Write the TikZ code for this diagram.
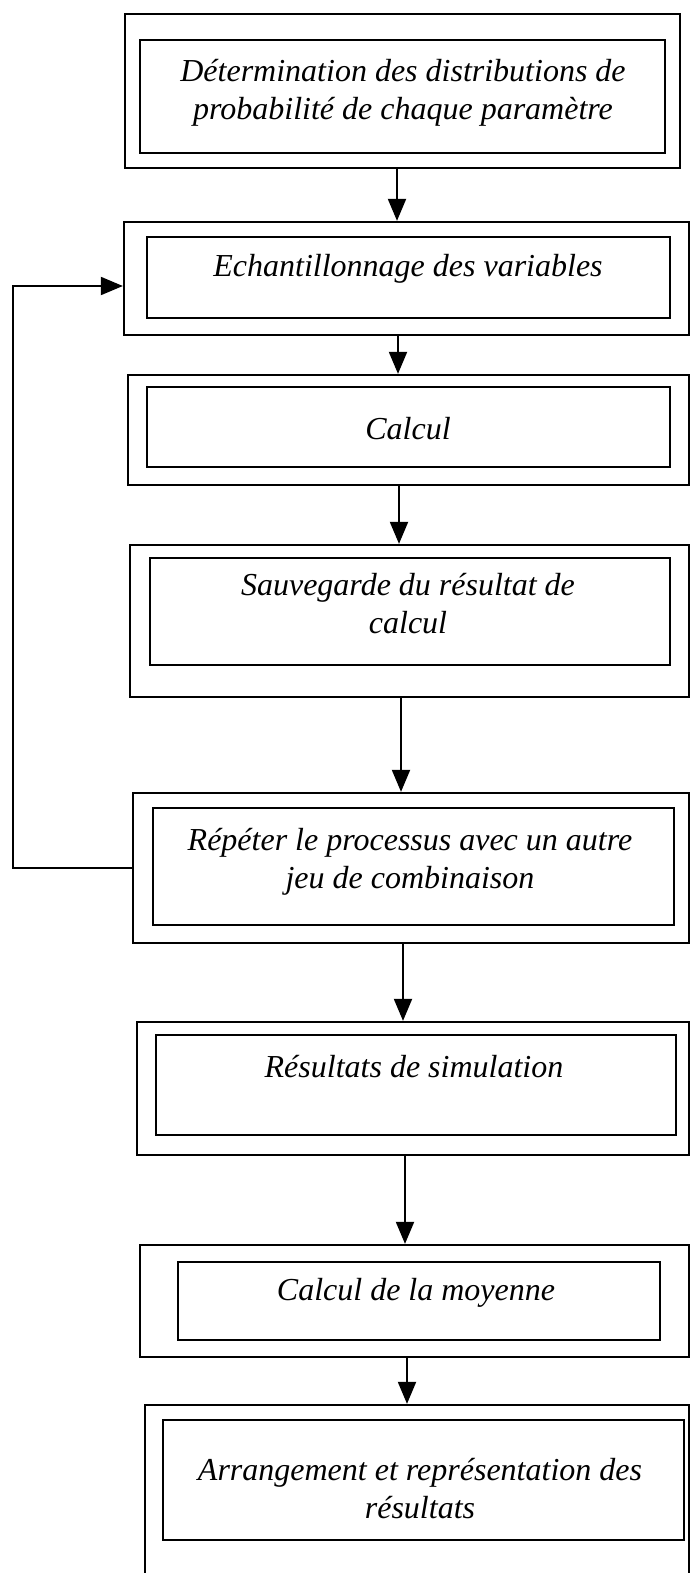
\documentclass[tikz,border=0pt]{standalone}
\usepackage{fontspec}
\setmainfont{Liberation Serif}
\usetikzlibrary{arrows.meta,fit}
\begin{document}
\begin{tikzpicture}[x=1pt,y=-1pt,
  boxframe/.style={draw, line width=2.3pt, inner sep=0pt},
  txt/.style={font=\fontsize{32}{38}\selectfont\itshape, align=center, inner sep=0pt},
  arr/.style={line width=2pt, -{Triangle[width=18pt,length=22pt]}}]
\fill[white] (0,0) rectangle (691,1573);
\useasboundingbox (0,0) rectangle (691,1573);
\clip (0,0) rectangle (691,1573);
% box 1
\node[boxframe, fit={(125,14)(680,168)}] (o1) {};
\node[boxframe, fit={(140,40)(665,153)}] (i1) {};
\node[txt] (t1) at (403,93) {Détermination des distributions de\\probabilité de chaque paramètre};
% box 2
\node[boxframe, fit={(124,222)(689,335)}] (o2) {};
\node[boxframe, fit={(147,237)(670,318)}] (i2) {};
\node[txt] (t2) at (408,269) {Echantillonnage des variables};
% box 3
\node[boxframe, fit={(128,375)(689,485)}] (o3) {};
\node[boxframe, fit={(147,387)(670,467)}] (i3) {};
\node[txt] (t3) at (408,429) {Calcul};
% box 4
\node[boxframe, fit={(130,545)(689,697)}] (o4) {};
\node[boxframe, fit={(150,558)(670,665)}] (i4) {};
\node[txt] (t4) at (408,604) {Sauvegarde du résultat de\\calcul};
% box 5
\node[boxframe, fit={(133,793)(689,943)}] (o5) {};
\node[boxframe, fit={(153,808)(674,925)}] (i5) {};
\node[txt] (t5) at (410,862) {Répéter le processus avec un autre\\jeu de combinaison};
% box 6
\node[boxframe, fit={(137,1022)(689,1155)}] (o6) {};
\node[boxframe, fit={(156,1035)(676,1135)}] (i6) {};
\node[txt] (t6) at (414,1067) {Résultats de simulation};
% box 7
\node[boxframe, fit={(140,1245)(689,1357)}] (o7) {};
\node[boxframe, fit={(178,1262)(660,1340)}] (i7) {};
\node[txt] (t7) at (416,1293) {Calcul de la moyenne};
% box 8
\node[boxframe, fit={(145,1405)(689,1600)}] (o8) {};
\node[boxframe, fit={(163,1420)(684,1540)}] (i8) {};
\node[txt] (t8) at (420,1489) {Arrangement et représentation des\\résultats};
% arrows
\coordinate (a1) at (397,0);
\coordinate (a2) at (398,0);
\coordinate (a3) at (399,0);
\coordinate (a4) at (401,0);
\coordinate (a5) at (403,0);
\coordinate (a6) at (405,0);
\coordinate (a7) at (407,0);
\draw[arr] (o1.south -| a1) -- (o2.north -| a1);
\draw[arr] (o2.south -| a2) -- (o3.north -| a2);
\draw[arr] (o3.south -| a3) -- (o4.north -| a3);
\draw[arr] (o4.south -| a4) -- (o5.north -| a4);
\draw[arr] (o5.south -| a5) -- (o6.north -| a5);
\draw[arr] (o6.south -| a6) -- (o7.north -| a6);
\draw[arr] (o7.south -| a7) -- (o8.north -| a7);
% loop
\coordinate (L) at (13,286);
\draw[arr] (o5.west) -| (L) -- (L -| o2.west);
\end{tikzpicture}
\end{document}
